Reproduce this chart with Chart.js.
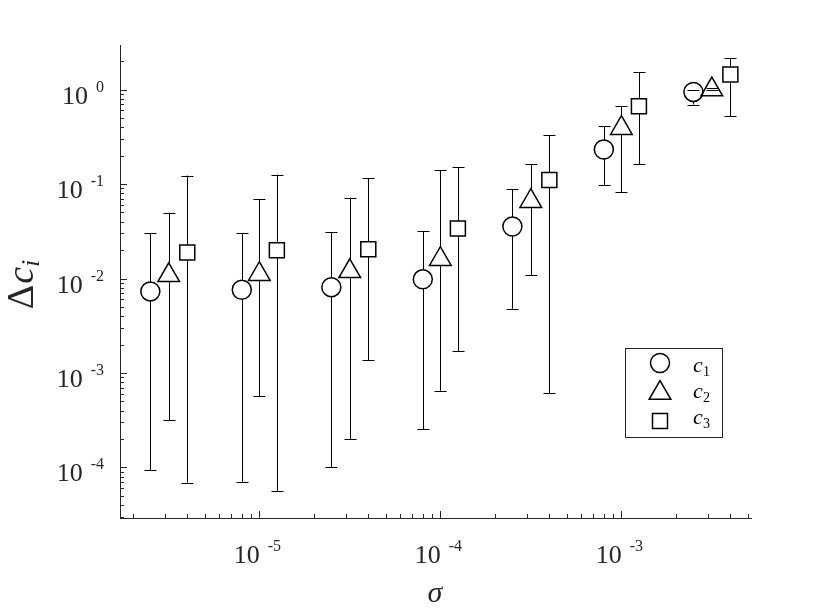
<!DOCTYPE html>
<html>
<head>
<meta charset="utf-8">
<script src="https://cdn.jsdelivr.net/npm/chart.js@4.4.1/dist/chart.umd.min.js"></script>
<style>
  html, body { margin: 0; padding: 0; background: #fff; }
  #wrap { width: 830px; height: 616px; }
</style>
</head>
<body>
<div id="wrap"><canvas id="errChart" width="830" height="616"></canvas></div>
<script>
// sigma positions of each series (three markers per group)
var sigmaC1 = [2.5e-6, 8e-6, 2.5e-5, 8e-5, 2.5e-4, 8e-4, 2.5e-3];
var sigmaC2 = [3.16e-6, 1e-5, 3.16e-5, 1e-4, 3.16e-4, 1e-3, 3.16e-3];
var sigmaC3 = [4e-6, 1.25e-5, 4e-5, 1.25e-4, 4e-4, 1.25e-3, 4e-3];

// mean values and error bar ends
var c1 = [7.3e-3, 7.6e-3, 8.1e-3, 9.8e-3, 0.0355, 0.232, 0.944];
var c1Lo = [9.3e-5, 7.0e-5, 1.0e-4, 2.54e-4, 4.8e-3, 0.098, 0.694];
var c1Hi = [0.0303, 0.0303, 0.031, 0.0316, 0.0887, 0.409, 1.0];

var c2 = [0.0108, 0.0111, 0.0119, 0.016, 0.0658, 0.39, 1.0];
var c2Lo = [3.16e-4, 5.7e-4, 2.0e-4, 6.5e-4, 0.0108, 0.0819, 0.985];
var c2Hi = [0.0499, 0.069, 0.072, 0.141, 0.163, 0.671, 1.05];

var c3 = [0.0188, 0.0199, 0.0204, 0.0338, 0.110, 0.666, 1.44];
var c3Lo = [6.9e-5, 5.6e-5, 1.37e-3, 1.7e-3, 6.1e-4, 0.162, 0.521];
var c3Hi = [0.123, 0.126, 0.116, 0.151, 0.328, 1.52, 2.16];

var seriesNames = ['1', '2', '3'];
var xTicks = [1e-5, 1e-4, 1e-3];
var yTicks = [1e-4, 1e-3, 1e-2, 1e-1, 1];

var AX = '#262626';
var SERIF = '"Liberation Serif", "Times New Roman", Times, serif';

function pts(xs, ys) {
    return xs.map(function (x, i) { return { x: x, y: ys[i] }; });
}

// how far each marker reaches above / below its point
function markerExtent(ds) {
    var r = ds.pointRadius;
    if (ds.pointStyle === 'triangle') return [r, r / 2];
    if (ds.pointStyle === 'rect') return [r * Math.SQRT1_2, r * Math.SQRT1_2];
    return [r, r];
}

var errorBars = {
    id: 'errorBars',
    afterDatasetsDraw: function (chart) {
        var ctx = chart.ctx;
        var xs = chart.scales.x, ys = chart.scales.y;
        ctx.save();
        ctx.strokeStyle = '#000';
        ctx.lineWidth = 1;
        chart.data.datasets.forEach(function (ds) {
            var ext = markerExtent(ds);
            ds.data.forEach(function (p, i) {
                var px = Math.round(xs.getPixelForValue(p.x)) + 0.5;
                var py = ys.getPixelForValue(p.y);
                var top = ys.getPixelForValue(ds.errHi[i]);
                var bot = ys.getPixelForValue(ds.errLo[i]);
                ctx.beginPath();
                if (top < py - ext[0]) { ctx.moveTo(px, top); ctx.lineTo(px, py - ext[0]); }
                if (bot > py + ext[1]) { ctx.moveTo(px, py + ext[1]); ctx.lineTo(px, bot); }
                ctx.moveTo(px - 6, Math.round(top) + 0.5); ctx.lineTo(px + 6, Math.round(top) + 0.5);
                ctx.moveTo(px - 6, Math.round(bot) + 0.5); ctx.lineTo(px + 6, Math.round(bot) + 0.5);
                ctx.stroke();
            });
        });
        ctx.restore();
    }
};

function drawPow(ctx, exp, x, y, align) {
    var base = '10', sup = String(exp);
    ctx.font = '26px ' + SERIF;
    var wb = ctx.measureText(base).width;
    ctx.font = '16px ' + SERIF;
    var ws = ctx.measureText(sup).width;
    var gap = 8;
    var total = wb + gap + ws;
    var left = align === 'right' ? x - total : x - total / 2;
    ctx.fillStyle = AX;
    ctx.textAlign = 'left';
    ctx.textBaseline = 'alphabetic';
    ctx.font = '26px ' + SERIF;
    ctx.fillText(base, left, y);
    ctx.font = '16px ' + SERIF;
    ctx.fillText(sup, left + wb + gap, y - 12);
}

var axesDeco = {
    id: 'axesDeco',
    afterDraw: function (chart) {
        var ctx = chart.ctx;
        var xs = chart.scales.x, ys = chart.scales.y;
        var a = chart.chartArea;
        ctx.save();
        ctx.strokeStyle = AX;
        ctx.lineWidth = 1;
        ctx.beginPath();
        // y ticks (inside)
        for (var e = -5; e <= 0; e++) {
            for (var m = 1; m <= 9; m++) {
                var v = m * Math.pow(10, e);
                if (v < ys.min || v > ys.max) continue;
                var py = Math.round(ys.getPixelForValue(v)) + 0.5;
                var len = m === 1 ? 7 : 4;
                ctx.moveTo(a.left, py); ctx.lineTo(a.left + len, py);
            }
        }
        // x ticks (inside)
        for (var e2 = -6; e2 <= -3; e2++) {
            for (var m2 = 1; m2 <= 9; m2++) {
                var v2 = m2 * Math.pow(10, e2);
                if (v2 < xs.min || v2 > xs.max) continue;
                var px = Math.round(xs.getPixelForValue(v2)) + 0.5;
                var len2 = m2 === 1 ? 7 : 4;
                ctx.moveTo(px, a.bottom); ctx.lineTo(px, a.bottom - len2);
            }
        }
        ctx.stroke();

        yTicks.forEach(function (t) {
            drawPow(ctx, Math.round(Math.log10(t)), a.left - 16, ys.getPixelForValue(t) + 14, 'right');
        });
        xTicks.forEach(function (t) {
            drawPow(ctx, Math.round(Math.log10(t)), xs.getPixelForValue(t) - 2, 563, 'center');
        });

        // axis titles
        ctx.fillStyle = AX;
        ctx.textAlign = 'center';
        ctx.font = 'italic 30px ' + SERIF;
        ctx.fillText('\u03c3', 435, 602);

        ctx.save();
        ctx.translate(33, 285);
        ctx.rotate(-Math.PI / 2);
        ctx.textAlign = 'left';
        ctx.font = '38px ' + SERIF;
        var wd = ctx.measureText('\u0394').width;
        ctx.font = 'italic 38px ' + SERIF;
        var wc = ctx.measureText('c').width;
        ctx.font = 'italic 26px ' + SERIF;
        var wi = ctx.measureText('i').width;
        var x0 = -(wd + wc + wi) / 2;
        ctx.font = '38px ' + SERIF;
        ctx.fillText('\u0394', x0, 0);
        ctx.font = 'italic 38px ' + SERIF;
        ctx.fillText('c', x0 + wd + 1, 0);
        ctx.font = 'italic 26px ' + SERIF;
        ctx.fillText('i', x0 + wd + wc + 1, 6);
        ctx.restore();

        // legend box
        var lx = 625, ly = 348, lw = 97, lh = 89;
        var markY = [363, 393, 421];
        var textY = [372, 398, 424];
        ctx.fillStyle = '#fff';
        ctx.fillRect(lx, ly, lw, lh);
        ctx.strokeStyle = AX;
        ctx.lineWidth = 1;
        ctx.strokeRect(lx + 0.5, ly + 0.5, lw, lh);
        chart.data.datasets.forEach(function (ds, i) {
            ctx.fillStyle = 'rgba(0,0,0,0)';
            ctx.strokeStyle = '#000';
            ctx.lineWidth = ds.pointBorderWidth;
            Chart.helpers.drawPoint(ctx, {
                pointStyle: ds.pointStyle,
                radius: ds.pointRadius,
                rotation: 0,
                borderWidth: ds.pointBorderWidth
            }, lx + 35, markY[i]);
            ctx.fillStyle = '#000';
            ctx.textAlign = 'left';
            ctx.font = 'italic 22px ' + SERIF;
            ctx.fillText('c', lx + 68, textY[i]);
            ctx.font = '14px ' + SERIF;
            ctx.fillText(seriesNames[i], lx + 78, textY[i] + 4);
        });
        ctx.restore();
    }
};

new Chart(document.getElementById('errChart').getContext('2d'), {
    type: 'scatter',
    data: {
        datasets: [{
            label: 'c1',
            data: pts(sigmaC1, c1),
            errLo: c1Lo, errHi: c1Hi,
            pointStyle: 'circle',
            pointRadius: 9.5,
            pointBorderWidth: 1.5,
            borderColor: '#000',
            backgroundColor: 'rgba(0,0,0,0)'
        }, {
            label: 'c2',
            data: pts(sigmaC2, c2),
            errLo: c2Lo, errHi: c2Hi,
            pointStyle: 'triangle',
            pointRadius: 12.5,
            pointBorderWidth: 1.5,
            borderColor: '#000',
            backgroundColor: 'rgba(0,0,0,0)'
        }, {
            label: 'c3',
            data: pts(sigmaC3, c3),
            errLo: c3Lo, errHi: c3Hi,
            pointStyle: 'rect',
            pointRadius: 10.6,
            pointBorderWidth: 1.5,
            borderColor: '#000',
            backgroundColor: 'rgba(0,0,0,0)'
        }]
    },
    options: {
        responsive: false,
        animation: false,
        layout: { padding: { left: 112, right: 79, top: 45, bottom: 90 } },
        plugins: { legend: { display: false }, tooltip: { enabled: false } },
        scales: {
            x: {
                type: 'logarithmic',
                min: 1.7e-6, max: 5.2e-3,
                ticks: { display: false },
                grid: { display: false },
                border: { display: true, color: AX, width: 1 }
            },
            y: {
                type: 'logarithmic',
                min: 2.92e-5, max: 2.96,
                ticks: { display: false },
                grid: { display: false },
                border: { display: true, color: AX, width: 1 }
            }
        }
    },
    plugins: [errorBars, axesDeco]
});
</script>
</body>
</html>
